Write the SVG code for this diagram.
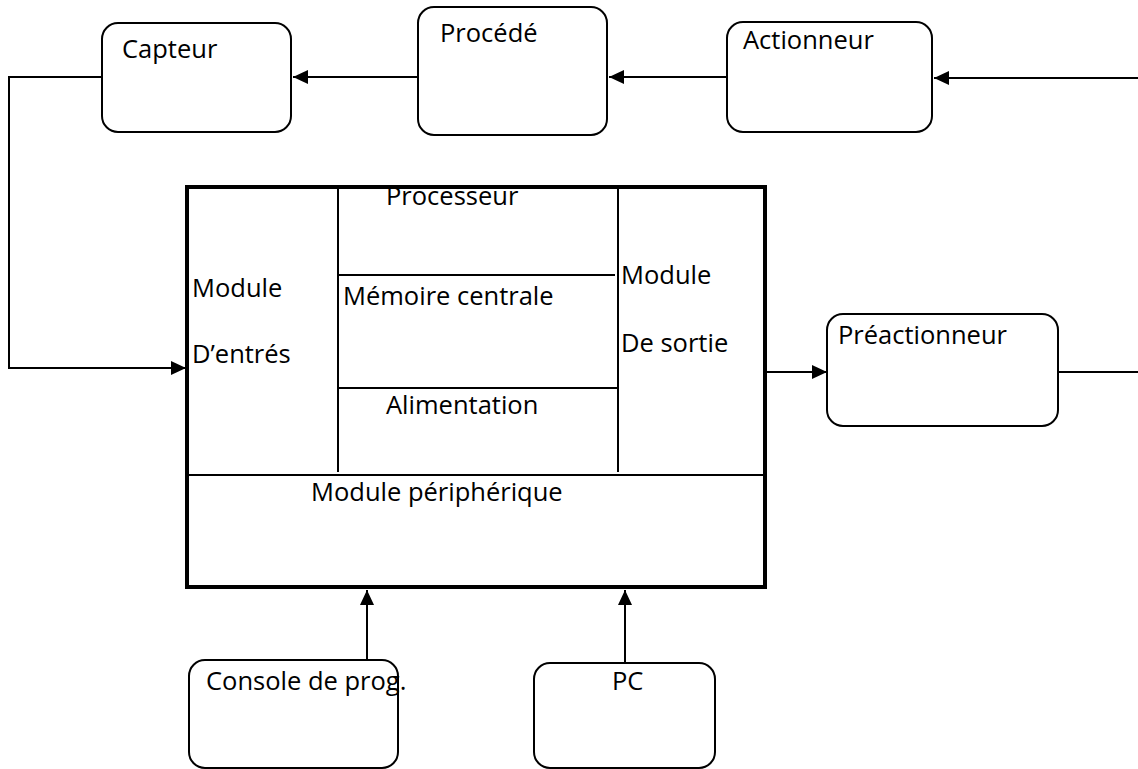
<svg xmlns="http://www.w3.org/2000/svg" width="1138" height="769" viewBox="0 0 1138 769">
<defs>
<style>
.box{fill:#fff;stroke:#000;stroke-width:2}
.main{fill:#fff;stroke:#000;stroke-width:4}
.ln{fill:none;stroke:#000;stroke-width:2}
.cn{fill:none;stroke:#000;stroke-width:2}
text{font-family:"Open Sans","Noto Sans","Liberation Sans",sans-serif;font-size:25.5px;fill:#000}
</style>
<marker id="arr" markerUnits="userSpaceOnUse" markerWidth="16" markerHeight="14" refX="15" refY="7" orient="auto">
<path d="M0,0 L15,7 L0,14 Z" fill="#000"/>
</marker>
</defs>
<rect width="1138" height="769" fill="#fff"/>
<g id="connectors">
<path class="cn" d="M1138 78 H934" marker-end="url(#arr)"/>
<path class="cn" d="M727 77 H609" marker-end="url(#arr)"/>
<path class="cn" d="M418 77 H293" marker-end="url(#arr)"/>
<path class="cn" d="M102 77 H9 V368 H186" marker-end="url(#arr)"/>
<path class="cn" d="M765 372 H827" marker-end="url(#arr)"/>
<path class="cn" d="M1058 372 H1138"/>
<path class="cn" d="M367 660 V590" marker-end="url(#arr)"/>
<path class="cn" d="M625 663 V590" marker-end="url(#arr)"/>
</g>
<g id="capteur">
<rect class="box" x="102" y="23" width="189" height="109" rx="16"/>
<text x="122" y="58">Capteur</text>
</g>
<g id="procede">
<rect class="box" x="418" y="7" width="189" height="128" rx="16"/>
<text x="440" y="42">Procédé</text>
</g>
<g id="actionneur">
<rect class="box" x="727" y="22" width="205" height="110" rx="16"/>
<text x="743" y="49">Actionneur</text>
</g>
<g id="automate">
<rect class="main" x="187" y="187" width="578" height="400"/>
<line class="ln" x1="338" y1="187" x2="338" y2="472"/>
<line class="ln" x1="618" y1="187" x2="618" y2="472"/>
<line class="ln" x1="338" y1="275" x2="615" y2="275"/>
<line class="ln" x1="338" y1="388" x2="618" y2="388"/>
<line class="ln" x1="187" y1="475" x2="765" y2="475"/>
<text x="386" y="205">Processeur</text>
<text x="192" y="297">Module</text>
<text x="192" y="363">D’entrés</text>
<text x="343" y="305">Mémoire centrale</text>
<text x="386" y="414">Alimentation</text>
<text x="621" y="284">Module</text>
<text x="621" y="352">De sortie</text>
<text x="311" y="501">Module périphérique</text>
</g>
<g id="preactionneur">
<rect class="box" x="827" y="314" width="231" height="112" rx="16"/>
<text x="838" y="344">Préactionneur</text>
</g>
<g id="console">
<rect class="box" x="189" y="660" width="209" height="108" rx="16"/>
<text x="206" y="690">Console de prog.</text>
</g>
<g id="pc">
<rect class="box" x="534" y="663" width="181" height="105" rx="16"/>
<text x="612" y="690">PC</text>
</g>
</svg>
